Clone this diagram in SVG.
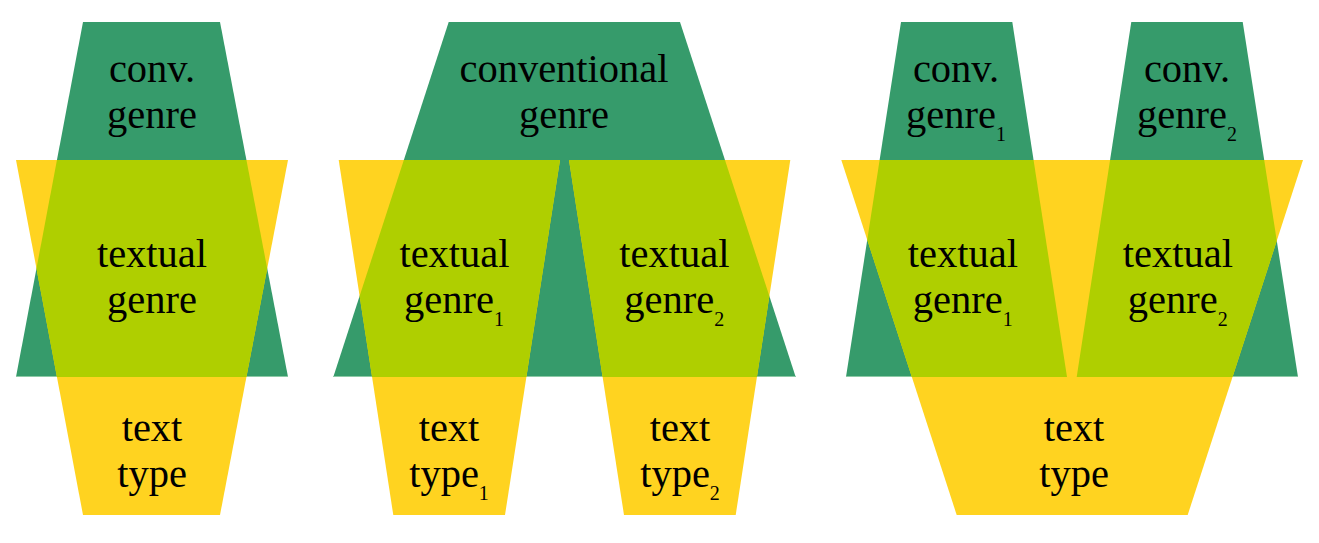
<svg xmlns="http://www.w3.org/2000/svg" width="1319" height="543" viewBox="0 0 1319 543">
<style>
.g{fill:#369b6b}
.y{fill:#ffd320}
.l{fill:#afcf00}
.edge{stroke:#8dcaa6;stroke-width:1}
text{font-family:"Liberation Serif","Times New Roman",serif;font-size:40.5px;fill:#000;text-anchor:middle}
.sub{font-size:20px}
</style>
<defs>
<clipPath id="cG1"><polygon points="83,22 220,22 288,377 16,377"/></clipPath>
<clipPath id="cG2"><polygon points="448.7,22 680,22 795.7,377 333.3,377"/></clipPath>
<clipPath id="cGA"><polygon points="901,22 1012.3,22 1067,377 846,377"/></clipPath>
<clipPath id="cGB"><polygon points="1131.3,22 1242.7,22 1298,377 1076.7,377"/></clipPath>
</defs>
<rect width="1319" height="543" fill="#fff"/>

<!-- Panel 1 -->
<g id="p1-conv-genre">
<polygon class="g" points="83,22 220,22 288,377 16,377"/>
<line class="edge" x1="16" y1="376.5" x2="288" y2="376.5"/>
<text x="152" y="82">conv.</text>
<text x="152" y="128">genre</text>
</g>
<g id="p1-text-type">
<polygon class="y" points="16,160 288,160 220,515 83,515"/>
<text x="152" y="441">text</text>
<text x="152" y="487">type</text>
</g>
<g id="p1-textual-genre">
<polygon class="l" clip-path="url(#cG1)" points="16,160 288,160 220,515 83,515"/>
<text x="152" y="267">textual</text>
<text x="152" y="313">genre</text>
</g>

<!-- Panel 2 -->
<g id="p2-conventional-genre">
<polygon class="g" points="448.7,22 680,22 795.7,377 333.3,377"/>
<line class="edge" x1="333.3" y1="376.5" x2="795.7" y2="376.5"/>
<text x="564" y="82">conventional</text>
<text x="564" y="128">genre</text>
</g>
<g id="p2-text-type1">
<polygon class="y" points="338.7,160 560,160 505,515 393.3,515"/>
<text x="449" y="441">text</text>
<text x="449" y="487">type<tspan class="sub" dy="13">1</tspan></text>
</g>
<g id="p2-text-type2">
<polygon class="y" points="569,160 790.3,160 735.7,515 624,515"/>
<text x="680" y="441">text</text>
<text x="680" y="487">type<tspan class="sub" dy="13">2</tspan></text>
</g>
<g id="p2-textual-genre1">
<polygon class="l" clip-path="url(#cG2)" points="338.7,160 560,160 505,515 393.3,515"/>
<text x="454.5" y="267">textual</text>
<text x="454" y="313">genre<tspan class="sub" dy="13">1</tspan></text>
</g>
<g id="p2-textual-genre2">
<polygon class="l" clip-path="url(#cG2)" points="569,160 790.3,160 735.7,515 624,515"/>
<text x="674.3" y="267">textual</text>
<text x="674.3" y="313">genre<tspan class="sub" dy="13">2</tspan></text>
</g>

<!-- Panel 3 -->
<g id="p3-conv-genre1">
<polygon class="g" points="901,22 1012.3,22 1067,377 846,377"/>
<line class="edge" x1="846" y1="376.5" x2="1067" y2="376.5"/>
<text x="956" y="82">conv.</text>
<text x="956" y="128">genre<tspan class="sub" dy="13">1</tspan></text>
</g>
<g id="p3-conv-genre2">
<polygon class="g" points="1131.3,22 1242.7,22 1298,377 1076.7,377"/>
<line class="edge" x1="1076.7" y1="376.5" x2="1298" y2="376.5"/>
<text x="1187" y="82">conv.</text>
<text x="1187" y="128">genre<tspan class="sub" dy="13">2</tspan></text>
</g>
<g id="p3-text-type">
<polygon class="y" points="841.3,160 1303,160 1187.7,515 956.7,515"/>
<text x="1074" y="441">text</text>
<text x="1074" y="487">type</text>
</g>
<g id="p3-textual-genre1">
<polygon class="l" clip-path="url(#cGA)" points="841.3,160 1303,160 1187.7,515 956.7,515"/>
<text x="962.8" y="267">textual</text>
<text x="962.8" y="313">genre<tspan class="sub" dy="13">1</tspan></text>
</g>
<g id="p3-textual-genre2">
<polygon class="l" clip-path="url(#cGB)" points="841.3,160 1303,160 1187.7,515 956.7,515"/>
<text x="1177.8" y="267">textual</text>
<text x="1177.8" y="313">genre<tspan class="sub" dy="13">2</tspan></text>
</g>

<g id="connectors"/>
</svg>
